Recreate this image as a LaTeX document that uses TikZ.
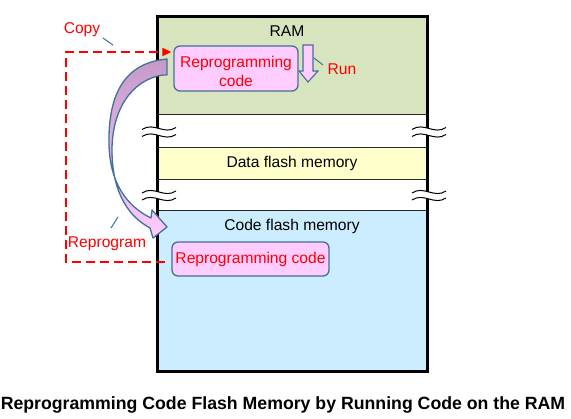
\documentclass[tikz,border=0pt]{standalone}
\usepackage{fontspec}
\setmainfont{Liberation Sans}
\usetikzlibrary{arrows.meta}
\definecolor{ramgreen}{RGB}{215,228,189}
\definecolor{datayellow}{RGB}{255,255,204}
\definecolor{codeblue}{RGB}{204,236,255}
\definecolor{pinkfill}{RGB}{255,204,255}
\definecolor{lilac}{RGB}{196,154,200}
\definecolor{boxblue}{RGB}{65,113,156}
\definecolor{sepgray}{RGB}{40,40,40}
\newcommand\mysize{\fontsize{15.6}{18}\selectfont}
\tikzset{
  txt/.style={font=\mysize, inner sep=0pt, anchor=base},
  redtxt/.style={txt, text=red},
  region/.style={draw=none, inner sep=0pt, minimum width=270pt, anchor=north west},
  sepline/.style={draw=sepgray, line width=0.9pt},
  pbox/.style={draw=boxblue, fill=pinkfill, rounded corners=6pt, line width=1.3pt, inner sep=0pt},
  leader/.style={draw=boxblue, line width=1pt},
  copyline/.style={draw=red, line width=1.5pt, dash pattern=on 9pt off 5pt},
  brkmark/.pic={
    \fill[white] (-17,-2) .. controls (-5,-10) and (5,4) .. (17,-4) -- (17,3) .. controls (5,11) and (-5,-3) .. (-17,5) -- cycle;
    \draw[line width=1pt] (-17,-2) .. controls (-5,-10) and (5,4) .. (17,-4);
    \draw[line width=1pt] (-17,5) .. controls (-5,-3) and (5,11) .. (17,3);
  }
}
\begin{document}
\begin{tikzpicture}[x=1pt,y=-1pt]
\useasboundingbox[fill=white] (0,0) rectangle (571,419);
% regions
\node[region, fill=ramgreen, minimum height=97pt] (ram) at (157,17) {};
\node[region, fill=datayellow, minimum height=32pt] (data) at (157,147) {};
\node[region, fill=codeblue, minimum height=162pt] (code) at (157,210) {};
\draw[sepline] (157,114) -- (427,114);
\draw[sepline] (157,147) -- (427,147);
\draw[sepline] (157,179) -- (427,179);
\draw[sepline] (157,210) -- (427,210);
\draw[line width=3pt, line join=miter] (157,17) rectangle (427,372);
% break marks
\pic at (159,131.5) {brkmark};
\pic at (159,195) {brkmark};
\pic at (429,131.5) {brkmark};
\pic at (429,195) {brkmark};
% region labels
\node[txt] (ramlbl) at (287,37) {RAM};
\node[txt] (datalbl) at (292,168) {Data flash memory};
\node[txt] (codelbl) at (292,230.5) {Code flash memory};
% boxes
\node[pbox, minimum width=124pt, minimum height=45pt] (rbox) at (236,68.5) {};
\node[redtxt] (rtext1) at (236,68) {Reprogramming};
\node[redtxt] (rtext2) at (236,87) {code};
\node[pbox, minimum width=157pt, minimum height=34pt, text=red, font=\mysize] (cbox) at (250.5,259) {Reprogramming code};
% run arrow
\draw[boxblue, fill=pinkfill, line width=1.1pt, line join=miter]
  (303,45) -- (313,45) -- (313,71) -- (318,71) -- (308,82) -- (299,71) -- (303,71) -- cycle;
\node[redtxt] (runlbl) at (342,75) {Run};
\coordinate (runa) at (314,58);
\coordinate (runb) at (323,65);
\draw[leader] (runa) -- (runb);
% copy dashed path
\coordinate (c1) at (66,262);
\coordinate (c2) at (66,52);
\draw[copyline, -{Triangle[length=9pt,width=8pt]}]
  ([xshift=-6pt,yshift=-3pt]cbox.west) -- (c1) -- (c2) -- ([xshift=-2pt]rbox.west |- c2);
\node[redtxt] (copylbl) at (82,34) {Copy};
\coordinate (cpa) at (103,38);
\coordinate (cpb) at (113,45);
\draw[leader] (cpa) -- (cpb);
% curved arrow
\draw[boxblue, line width=1.3pt, top color=lilac, bottom color=pinkfill, line join=round]
  (167,59) -- (163,59.5) .. controls (122,65) and (108,98) .. (109,145)
  .. controls (110,182) and (126,206) .. (151,218)
  -- (152,210) -- (167,227) -- (153,238) -- (150,228)
  .. controls (124,214) and (112,186) .. (112,150)
  .. controls (112,112) and (130,80) .. (163,75) -- (167,75) -- cycle;
\node[redtxt] (reprlbl) at (107,248) {Reprogram};
\coordinate (rpa) at (111,228);
\coordinate (rpb) at (118,217);
\draw[leader] (rpa) -- (rpb);
% caption
\node[txt, font=\bfseries\fontsize{17.7}{20}\selectfont] (cap) at (283,410) {Reprogramming Code Flash Memory by Running Code on the RAM};
\end{tikzpicture}
\end{document}
